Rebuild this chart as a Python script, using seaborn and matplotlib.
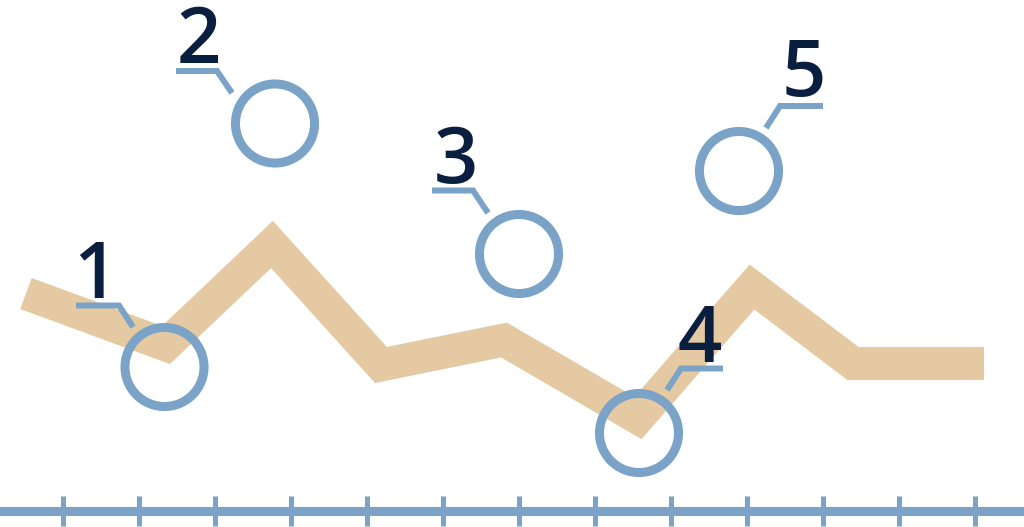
import matplotlib
matplotlib.use("Agg")
import matplotlib.pyplot as plt
import numpy as np
import pandas as pd
import seaborn as sns

# trend line (x position, level) - y measured downward like the picture
line_x = [26, 166, 272, 381, 504, 638, 752, 853, 984]
line_y = [293.5, 345, 244.5, 365, 340, 418, 287, 363.5, 363.5]

# highlighted points (circles)
mark_x = [164.5, 275, 519, 639, 739]
mark_y = [367, 123.5, 254, 433, 171]
mark_labels = ["1", "2", "3", "4", "5"]

# label anchors (ink centre, baseline)
label_x = [95, 199, 456, 700, 803.5]
label_y = [298, 63, 183, 362, 96]

# callout leaders, one polyline per label
leaders = [
    ([76, 119, 133], [305.5, 305.5, 327]),
    ([176, 217, 232], [71, 71, 93]),
    ([432, 473, 488], [190.5, 190.5, 213]),
    ([667, 681, 723], [390, 368.5, 368.5]),
    ([766, 780, 823], [128, 106, 106]),
]

tick_positions = [63, 139, 215, 291, 367, 443, 519, 595, 671, 747, 823, 899, 975]
axis_level = 510.5

TAN = "#E4C9A2"
BLUE = "#7AA3C7"
NAVY = "#0A1F40"

sns.set_style("white")
plt.rcParams["font.family"] = ["Open Sans", "DejaVu Sans"]

fig = plt.figure(figsize=(10.24, 5.27), dpi=100)
ax = fig.add_axes([0, 0, 1, 1])

df_line = pd.DataFrame({"x": line_x, "y": line_y})
sns.lineplot(data=df_line, x="x", y="y", ax=ax, color=TAN, linewidth=23.8,
             solid_joinstyle="miter", solid_capstyle="butt", zorder=2)

for lx, ly in leaders:
    sns.lineplot(x=lx, y=ly, ax=ax, color=BLUE, linewidth=4.3, sort=False,
                 solid_joinstyle="miter", solid_capstyle="butt", zorder=3)

df_marks = pd.DataFrame({"x": mark_x, "y": mark_y})
sns.scatterplot(data=df_marks, x="x", y="y", ax=ax, s=3240, marker="o",
                facecolor="none", edgecolor=BLUE, linewidth=6.5, zorder=4)

for t, tx, ty in zip(mark_labels, label_x, label_y):
    ax.text(tx, ty, t, ha="center", va="baseline", fontsize=56,
            fontweight="semibold", color=NAVY, zorder=5)

ax.set_xlim(0, 1024)
ax.set_ylim(527, 0)

for side in ["top", "left", "right"]:
    ax.spines[side].set_visible(False)
ax.spines["bottom"].set_position(("data", axis_level))
ax.spines["bottom"].set_color(BLUE)
ax.spines["bottom"].set_linewidth(6.5)
ax.spines["bottom"].set_zorder(6)
ax.set_xticks(tick_positions)
ax.set_xticklabels([])
ax.set_yticks([])
ax.tick_params(axis="x", direction="inout", length=20.9, width=3.6, color=BLUE, bottom=True)
ax.set_xlabel("")
ax.set_ylabel("")
ax.patch.set_alpha(0)

fig.savefig("out.png", dpi=100, facecolor="white")
